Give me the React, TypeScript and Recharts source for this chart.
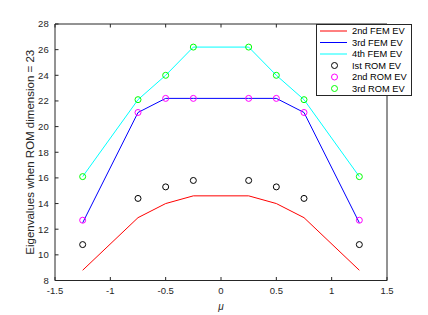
import React from "react";
import {
  ComposedChart,
  Line,
  Scatter,
  XAxis,
  YAxis,
  Legend,
  Label,
} from "recharts";

// parameter values (mu) and eigenvalues
const mu = [-1.25, -0.75, -0.5, -0.25, 0.25, 0.5, 0.75, 1.25];
const fem2 = [8.8, 12.9, 14.0, 14.6, 14.6, 14.0, 12.9, 8.8];
const fem3 = [12.5, 21.1, 22.2, 22.2, 22.2, 22.2, 21.1, 12.5];
const fem4 = [16.1, 22.1, 24.0, 26.2, 26.2, 24.0, 22.1, 16.1];
const rom1 = [10.8, 14.4, 15.3, 15.8, 15.8, 15.3, 14.4, 10.8];
const rom2 = [12.7, 21.1, 22.2, 22.2, 22.2, 22.2, 21.1, 12.7];
const rom3 = [16.1, 22.1, 24.0, 26.2, 26.2, 24.0, 22.1, 16.1];

const xTicks = [-1.5, -1, -0.5, 0, 0.5, 1, 1.5];
const yTicks = [8, 10, 12, 14, 16, 18, 20, 22, 24, 26, 28];

const legendItems = [
  { name: "2nd FEM EV", color: "#ff0000", kind: "line" },
  { name: "3rd FEM EV", color: "#0000ff", kind: "line" },
  { name: "4th FEM EV", color: "#00ffff", kind: "line" },
  { name: "Ist ROM EV", color: "#000000", kind: "circle" },
  { name: "2nd ROM EV", color: "#ff00ff", kind: "circle" },
  { name: "3rd ROM EV", color: "#00ff00", kind: "circle" },
];

const data = mu.map((m, i) => ({
  mu: m,
  fem2: fem2[i],
  fem3: fem3[i],
  fem4: fem4[i],
  rom1: rom1[i],
  rom2: rom2[i],
  rom3: rom3[i],
}));

const FONT = "'Liberation Sans', Arial, Helvetica, sans-serif";
const AXIS = "#262626";

const circle = (color: string) => (props: any) =>
  <circle cx={props.cx} cy={props.cy} r={3} fill="none" stroke={color} strokeWidth={1} />;

function LegendBox() {
  return (
    <svg width={96} height={72} style={{ display: "block" }}>
      <rect x={0.5} y={0.5} width={95} height={71} fill="#fff" stroke={AXIS} strokeWidth={1} />
      {legendItems.map((it, i) => {
        const y = 7 + i * 11.5;
        return (
          <g key={it.name}>
            {it.kind === "line" ? (
              <line x1={4} x2={31} y1={y} y2={y} stroke={it.color} strokeWidth={1} />
            ) : (
              <circle cx={18.5} cy={y} r={3} fill="none" stroke={it.color} strokeWidth={1} />
            )}
            <text x={36} y={y + 3.3} fontSize={9.3} fontFamily={FONT} fill="#000">
              {it.name}
            </text>
          </g>
        );
      })}
    </svg>
  );
}

export default function App() {
  const tickStyle = { fill: AXIS, fontSize: 9.5, fontFamily: FONT };
  return (
    <div style={{ position: "absolute", left: 0, top: 0, background: "#fff" }}>
      <ComposedChart
        width={428}
        height={315}
        data={data}
        margin={{ top: 23, right: 40, left: 0, bottom: 0 }}
      >
        <XAxis
          xAxisId="b"
          dataKey="mu"
          type="number"
          domain={[-1.5, 1.5]}
          ticks={xTicks}
          height={34.5}
          tickSize={-3.5}
          tickMargin={10}
          tick={tickStyle}
          stroke={AXIS}
          allowDataOverflow
        >
          <Label value="μ" position="insideBottom" offset={5} fontSize={10} fontStyle="italic" fontFamily={FONT} fill={AXIS} />
        </XAxis>
        <XAxis
          xAxisId="t"
          orientation="top"
          dataKey="mu"
          type="number"
          domain={[-1.5, 1.5]}
          ticks={xTicks}
          height={1}
          tickSize={-3.5}
          tick={() => <g />}
          stroke={AXIS}
        />
        <YAxis
          yAxisId="l"
          type="number"
          domain={[8, 28]}
          ticks={yTicks}
          width={55}
          tickSize={-3.5}
          tickMargin={9.8}
          tick={tickStyle}
          stroke={AXIS}
          allowDataOverflow
        >
          <Label
            value="Eigenvalues when ROM dimension = 23"
            angle={-90}
            position="center"
            dx={2}
            fontSize={11.5}
            fontFamily={FONT}
            fill={AXIS}
          />
        </YAxis>
        <YAxis
          yAxisId="r"
          orientation="right"
          type="number"
          domain={[8, 28]}
          ticks={yTicks}
          width={1}
          tickSize={-3.5}
          tick={() => <g />}
          stroke={AXIS}
        />
        <Legend
          layout="vertical"
          align="center"
          verticalAlign="middle"
          content={() => <LegendBox />}
          wrapperStyle={{ left: 316, top: 24, width: 96, height: 72 }}
        />
        <Line xAxisId="b" yAxisId="l" type="linear" dataKey="fem2" stroke="#ff0000" strokeWidth={1} dot={false} activeDot={false} isAnimationActive={false} />
        <Line xAxisId="b" yAxisId="l" type="linear" dataKey="fem3" stroke="#0000ff" strokeWidth={1} dot={false} activeDot={false} isAnimationActive={false} />
        <Line xAxisId="b" yAxisId="l" type="linear" dataKey="fem4" stroke="#00ffff" strokeWidth={1} dot={false} activeDot={false} isAnimationActive={false} />
        <Scatter xAxisId="b" yAxisId="l" dataKey="rom1" shape={circle("#000000")} isAnimationActive={false} />
        <Scatter xAxisId="b" yAxisId="l" dataKey="rom2" shape={circle("#ff00ff")} isAnimationActive={false} />
        <Scatter xAxisId="b" yAxisId="l" dataKey="rom3" shape={circle("#00ff00")} isAnimationActive={false} />
      </ComposedChart>
    </div>
  );
}
